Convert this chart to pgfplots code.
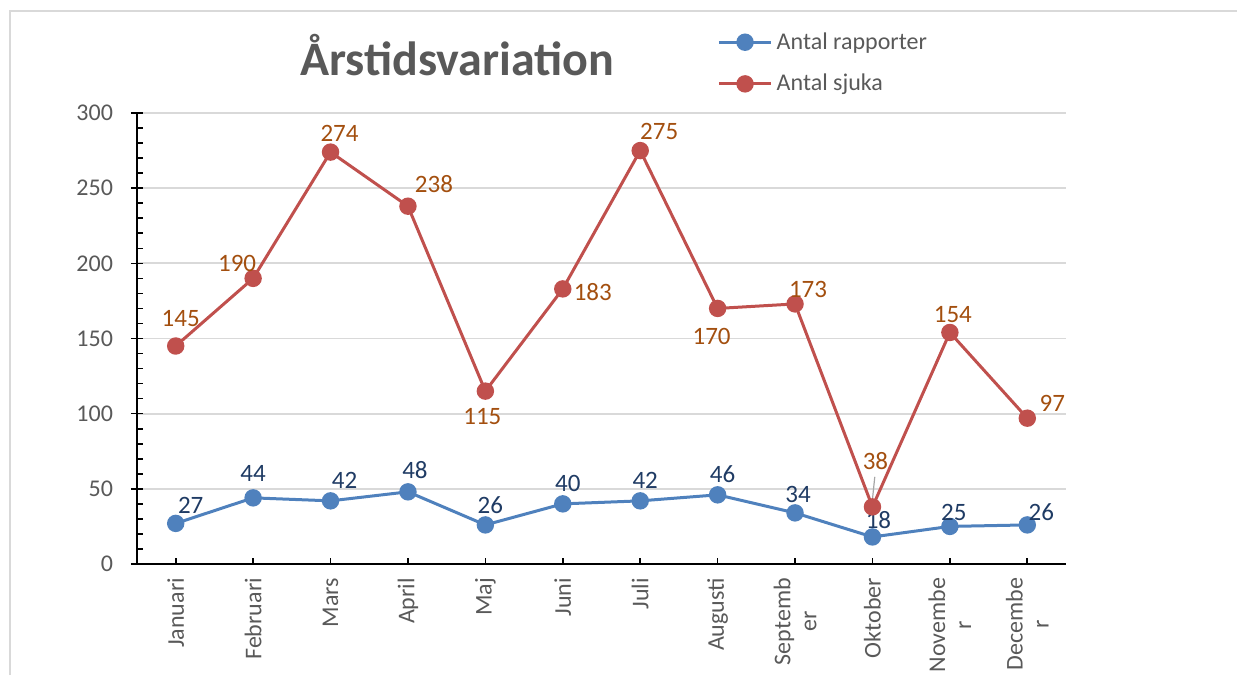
\documentclass[border=0pt]{standalone}
\usepackage{fontspec}
\setmainfont{Carlito}
\usepackage{pgfplots}
\usepackage{pgfplotstable}
\pgfplotsset{compat=1.18}
\definecolor{blueline}{HTML}{4F81BD}
\definecolor{redline}{HTML}{C0504D}
\definecolor{redlabel}{HTML}{A34F0F}
\definecolor{bluelabel}{HTML}{1F3B64}
\definecolor{textgray}{HTML}{595959}
\definecolor{gridgray}{HTML}{D9D9D9}

\pgfplotstableread{
x y dx dy
0 27 7.5 9
1 44 0 12
2 42 7 10
3 48 3.5 11
4 26 2.5 10
5 40 2.5 10
6 42 2.5 10
7 46 2.5 10.5
8 34 1.5 9
9 18 3 8.5
10 25 2 7
11 26 7 6.5
}\rapporter

\pgfplotstableread{
x y dx dy
0 145 2.5 13.5
1 190 -8 7.5
2 274 4.5 9.5
3 238 13 11
4 115 -1.5 -12.5
5 183 15 -1.5
6 275 9.5 9.5
7 170 -3 -14
8 173 6.5 7
9 38 1.5 23
10 154 1.5 9
11 97 12.5 7.5
}\sjuka

\begin{document}
\begin{tikzpicture}[x=1pt,y=1pt]
\useasboundingbox (0,0) rectangle (618.5,337.5);
\draw[gridgray, line width=0.8pt] (5,0) -- (5,332) -- (618.5,332);
\node[font=\fontsize{24}{28}\selectfont\bfseries, text=textgray] at (228.5,310) {Årstidsvariation};
\begin{axis}[
  at={(68.5pt,55.5pt)}, anchor=south west,
  scale only axis, width=464.5pt, height=225.5pt,
  xmin=-0.5, xmax=11.5, ymin=0, ymax=300,
  axis x line*=bottom, axis y line*=left,
  axis line style={black, line width=1pt, -},
  xtick={0,...,11},
  xticklabels={Januari,Februari,Mars,April,Maj,Juni,Juli,Augusti,{Septemb\\er},Oktober,{Novembe\\r},{Decembe\\r}},
  xticklabel style={rotate=90, anchor=east, align=center, text=textgray, font=\fontsize{12}{13}\selectfont},
  xticklabel shift=3.5pt,
  x tick style={black, line width=0.8pt},
  xtick align=inside,
  ytick={0,50,...,300},
  minor y tick num=4,
  ytick align=inside,
  y tick style={black, line width=0.8pt},
  major tick length=3pt, minor tick length=3pt,
  extra y ticks={0,50,...,300}, extra y tick labels={},
  extra y tick style={grid=none, tick align=outside, major tick length=3pt},
  yticklabel style={text=textgray, font=\fontsize{12}{14}\selectfont},
  yticklabel shift=8.5pt,
  ymajorgrids, major grid style={gridgray, line width=0.9pt},
  /pgf/number format/assume math mode=true,
  clip=false,
  legend style={at={(axis description cs:0.6243,1.1885)}, anchor=north west, draw=none, fill=none, inner sep=0pt, font=\fontsize{12}{14}\selectfont, text=textgray, row sep=7pt, cells={anchor=west}},
  legend image code/.code={\draw[mark repeat=2,mark phase=2,#1] plot coordinates {(0cm,0cm) (0.46cm,0cm) (0.92cm,0cm)};},
]
\addplot[blueline, line width=1.5pt, mark=*, mark size=3.6pt, mark options={fill=blueline, draw=blueline},
  nodes near coords, point meta=explicit,
  visualization depends on={\thisrow{dx}\as\dx},
  visualization depends on={\thisrow{dy}\as\dy},
  nodes near coords style={anchor=center, xshift=\dx*1pt, yshift=\dy*1pt, text=bluelabel, font=\fontsize{12.5}{14}\selectfont}]
  table[x=x, y=y, meta=y] {\rapporter};
\addlegendentry{Antal rapporter}
\addplot[redline, line width=1.5pt, mark=*, mark size=3.6pt, mark options={fill=redline, draw=redline},
  nodes near coords, point meta=explicit,
  visualization depends on={\thisrow{dx}\as\dx},
  visualization depends on={\thisrow{dy}\as\dy},
  nodes near coords style={anchor=center, xshift=\dx*1pt, yshift=\dy*1pt, text=redlabel, font=\fontsize{12.5}{14}\selectfont}]
  table[x=x, y=y, meta=y] {\sjuka};
\addlegendentry{Antal sjuka}
\draw[gray!70, line width=0.6pt] (axis cs:9.03,58) -- (axis cs:9,43);
\end{axis}
\end{tikzpicture}
\end{document}
